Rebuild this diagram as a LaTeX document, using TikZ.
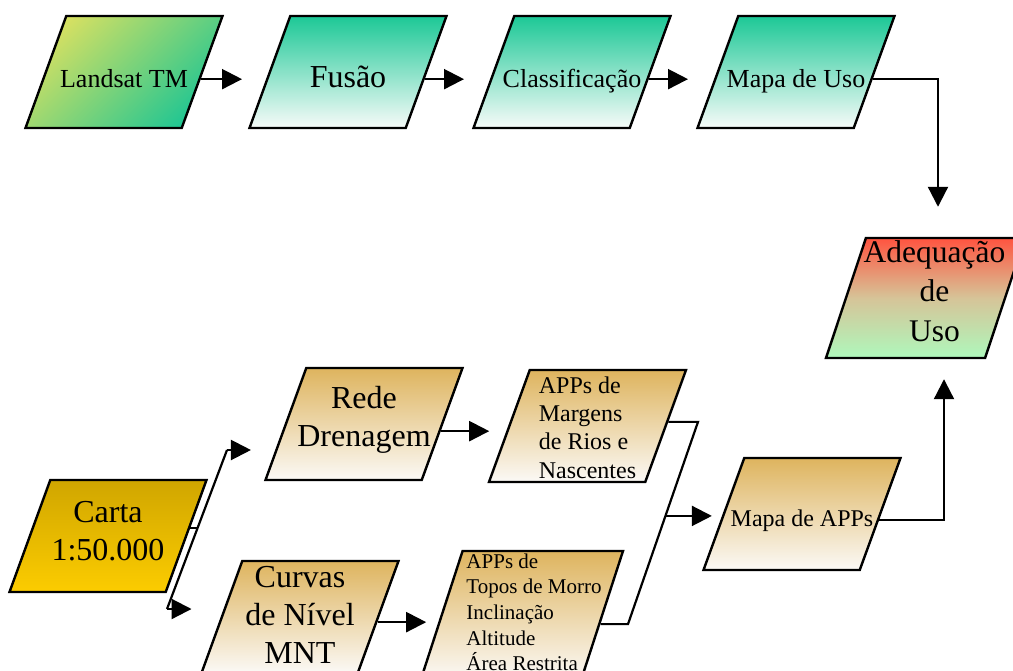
\documentclass[tikz,border=0pt]{standalone}
\usepackage{fontspec}
\setmainfont{Liberation Serif}
\usepackage{tikz}
\usetikzlibrary{shapes.geometric,arrows.meta,calc}

\definecolor{lsA}{RGB}{214,224,98}
\definecolor{lsB}{RGB}{34,198,146}
\definecolor{tealA}{RGB}{28,200,150}
\definecolor{tealB}{RGB}{247,251,249}
\definecolor{tanA}{RGB}{222,180,94}
\definecolor{tanB}{RGB}{251,249,246}
\definecolor{cartaA}{RGB}{208,166,0}
\definecolor{cartaB}{RGB}{252,204,0}
\definecolor{adqA}{RGB}{255,84,64}
\definecolor{adqM}{RGB}{214,196,152}
\definecolor{adqB}{RGB}{174,248,188}

\begin{document}
\begin{tikzpicture}[x=1pt, y=-1pt,
        box/.style={trapezium, trapezium left angle=70, trapezium right angle=110,
            trapezium stretches body=true, draw, line width=2.4pt,
            inner xsep=2pt, inner ysep=0pt, text height=112pt, text depth=0pt,
            minimum width=197pt},
        tealbox/.style={box, top color=tealA, bottom color=tealB},
        tanbox/.style={box, top color=tanA, bottom color=tanB},
        mid/.style={font=\fontsize{26}{31}\selectfont},
        big/.style={font=\fontsize{32}{38}\selectfont, align=center},
        small/.style={font=\fontsize{24}{28.3}\selectfont, align=left},
        link/.style={line width=2.2pt},
        arr/.style={line width=2.2pt, -{Triangle[length=20pt,width=20pt]}}]
        \path [use as bounding box, clip] (0,0) rectangle (1013,670);        %

        \node [box, top color=lsA, bottom color=lsB, shading angle=45,
               label={[mid, yshift=-6.6pt]center:Landsat TM}]     (landsat) at (124,72) {};   %TM
        \node [tealbox, label={[big, yshift=-4.5pt]center:Fusão}] (fusao)   at (348,72) {};   %
        \node [tealbox, label={[mid, yshift=-8.7pt]center:Classificação}]
                                                                  (classif) at (572,72) {};   %
        \node [tealbox, label={[mid, yshift=-8.9pt]center:Mapa de Uso}]
                                                                  (mapauso) at (796,72) {};   %USO
        \node [box, trapezium left angle=71.6, trapezium right angle=108.4,
               text height=120pt, minimum width=199pt,
               top color=adqA, bottom color=adqB, middle color=adqM,
               label={[align=center, font=\fontsize{31.5}{39.5}\selectfont,
                       xshift=9pt, yshift=6.8pt]center:Adequação\\de\\Uso}]
                                                                  (adeq)    at (925.5,298) {};%ADEQ

        \node [box, top color=cartaA, bottom color=cartaB,
               label={[big, yshift=5.2pt]center:Carta\\1:50.000}] (carta)   at (108,536) {};  %
        \node [tanbox, label={[big, yshift=4pt]center:Rede\\Drenagem}]
                                                                  (rede)    at (364,424) {};  %
        \node [tanbox, label={[small, yshift=-1.6pt]center:APPs de\\Margens\\de Rios e\\Nascentes}]
                                                                  (margens) at (587.5,426) {};%
        \node [tanbox, label={[big, yshift=1.8pt]center:Curvas\\de Nível\\MNT}]
                                                                  (curvas)  at (300,617) {};  %MNT
        \node [tanbox, trapezium left angle=72, trapezium right angle=108,
               text height=128pt, minimum width=202pt,
               label={[align=left, font=\fontsize{21}{25.6}\selectfont, xshift=12pt, yshift=2.6pt]
                      center:APPs de\\Topos de Morro\\Inclinação\\Altitude\\Área Restrita}]
                                                                  (topos)   at (522,615) {};  %
        \node [tanbox, label={[font=\fontsize{24}{28.3}\selectfont, yshift=-7.1pt]center:Mapa de APPs}]
                                                                  (mapaapp) at (802,514) {};  %APP

        \coordinate (landsatR) at ($(landsat.top right corner)!0.5625!(landsat.bottom right corner)$);
        \coordinate (fusaoL)   at ($(fusao.top left corner)!0.5625!(fusao.bottom left corner)$);
        \coordinate (fusaoR)   at ($(fusao.top right corner)!0.5625!(fusao.bottom right corner)$);
        \coordinate (classifL) at ($(classif.top left corner)!0.5625!(classif.bottom left corner)$);
        \coordinate (classifR) at ($(classif.top right corner)!0.5625!(classif.bottom right corner)$);
        \coordinate (usoL)     at ($(mapauso.top left corner)!0.5625!(mapauso.bottom left corner)$);
        \coordinate (usoR)     at ($(mapauso.top right corner)!0.5625!(mapauso.bottom right corner)$);
        \coordinate (turnA)    at (938,0);                                       %
        \coordinate (turnB)    at (944,0);                                       %

        \coordinate (cartaR)   at ($(carta.top right corner)!0.43!(carta.bottom right corner)$);
        \coordinate (forkT)    at (227,450);                                     %
        \coordinate (forkB)    at (167,609);                                     %
        \coordinate (forkM)    at ($(forkB)!0.5!(forkT)$);                       %
        \coordinate (redeL)    at ($(rede.top left corner)!0.732!(rede.bottom left corner)$);
        \coordinate (redeR)    at ($(rede.top right corner)!0.5625!(rede.bottom right corner)$);
        \coordinate (curvasL)  at ($(curvas.top left corner)!0.43!(curvas.bottom left corner)$);
        \coordinate (curvasR)  at ($(curvas.top right corner)!0.545!(curvas.bottom right corner)$);
        \coordinate (margensL) at ($(margens.top left corner)!0.545!(margens.bottom left corner)$);
        \coordinate (margensR) at ($(margens.top right corner)!0.464!(margens.bottom right corner)$);
        \coordinate (toposL)   at ($(topos.top left corner)!0.555!(topos.bottom left corner)$);
        \coordinate (toposR)   at ($(topos.top right corner)!0.57!(topos.bottom right corner)$);
        \coordinate (joinA)    at (698,0);                                       %
        \coordinate (joinB)    at (628,0);                                       %
        \coordinate (joinM)    at ($(margensR -| joinA)!0.465!(toposR -| joinB)$);
        \coordinate (mapaappL) at ($(mapaapp.top left corner)!0.518!(mapaapp.bottom left corner)$);
        \coordinate (mapaappR) at ($(mapaapp.top right corner)!0.554!(mapaapp.bottom right corner)$);

        \draw [arr, shorten >=24pt] (landsatR) -- (landsatR -| fusaoL);          %
        \draw [arr, shorten >=26pt] (fusaoR)   -- (fusaoR -| classifL);          %
        \draw [arr, shorten >=26pt] (classifR) -- (classifR -| usoL);            %
        \draw [arr, shorten >=30pt] (usoR) -- (usoR -| turnA) -- (turnA |- adeq.north);%

        \draw [link]                (cartaR)   -- (cartaR -| forkM);             %
        \draw [link]                (forkB)    -- (forkT);                       %
        \draw [arr, shorten >=24pt] (forkT)    -- (forkT -| redeL);              %
        \draw [arr, shorten >=32pt] (forkB)    -- (forkB -| curvasL);            %
        \draw [arr, shorten >=17pt] (redeR)    -- (redeR -| margensL);           %
        \draw [arr, shorten >=12pt] (curvasR)  -- (curvasR -| toposL);           %
        \draw [link] (margensR) -- (margensR -| joinA) -- (toposR -| joinB) -- (toposR);%
        \draw [arr, shorten >=10pt] (joinM)    -- (joinM -| mapaappL);           %
        \draw [arr, shorten >=20pt] (mapaappR) -- (mapaappR -| turnB) -- (turnB |- adeq.south);%
      \end{tikzpicture}
\end{document}
